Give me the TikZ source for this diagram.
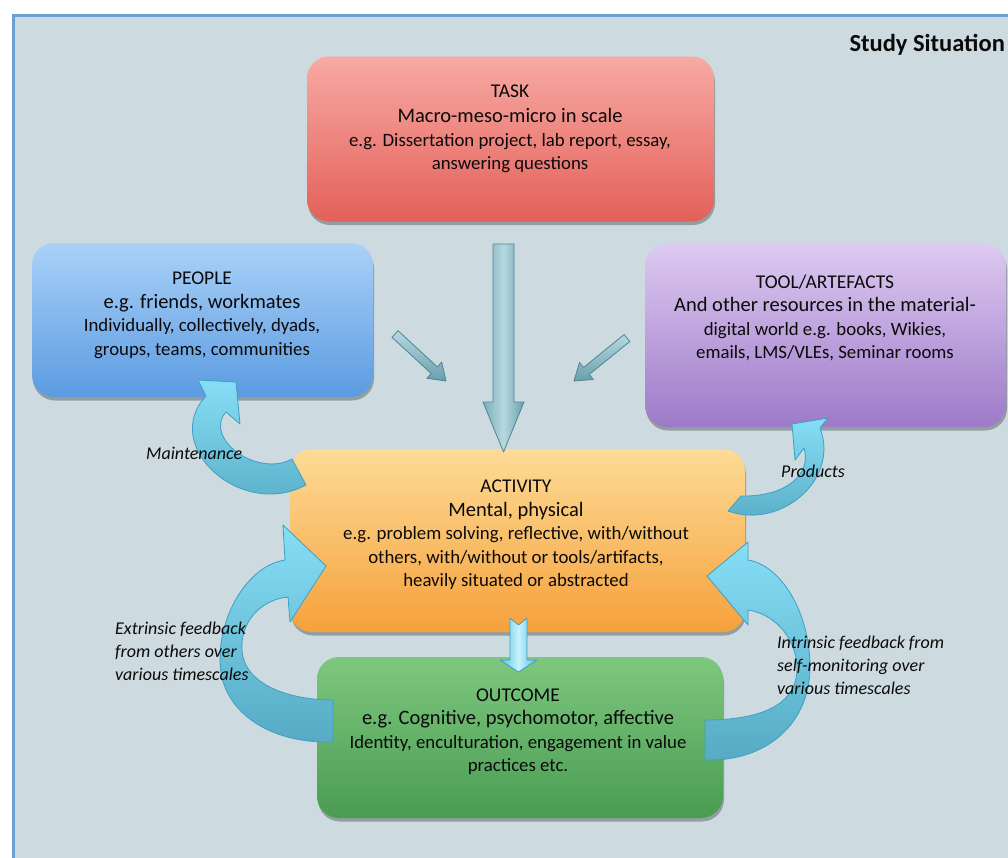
\documentclass[tikz,border=0pt]{standalone}
\usepackage{fontspec}
\setmainfont{Carlito}
\usetikzlibrary{calc,shadows}
\definecolor{bgc}{HTML}{CDDBE0}
\definecolor{framec}{HTML}{6F9FD0}
\definecolor{txtc}{HTML}{0A0A0A}
\definecolor{taskT}{HTML}{F7AAA3}\definecolor{taskB}{HTML}{E4605A}
\definecolor{peopT}{HTML}{AAD1F8}\definecolor{peopB}{HTML}{5B9BE1}
\definecolor{toolT}{HTML}{DDC9F1}\definecolor{toolB}{HTML}{9D7AC8}
\definecolor{actT}{HTML}{FDDB96}\definecolor{actB}{HTML}{F6A13B}
\definecolor{outT}{HTML}{7EC77F}\definecolor{outB}{HTML}{4A9C52}
\definecolor{tealL}{HTML}{7DAEBB}\definecolor{tealM}{HTML}{B6D8E0}\definecolor{tealR}{HTML}{6A9FAD}\definecolor{tealD}{HTML}{4E8593}
\definecolor{cyL}{HTML}{55C3E3}\definecolor{cyM}{HTML}{C8F2FC}\definecolor{cyR}{HTML}{55BDDE}\definecolor{cyD}{HTML}{3E9FC2}
\definecolor{cvT}{HTML}{86DEF6}\definecolor{cvB}{HTML}{56AAC4}
\newcommand\lgtxt{\fontsize{20.5}{23.5}\selectfont}
\newcommand\tttxt{\fontsize{19.5}{23.5}\selectfont}
\newcommand\blockarrow[7]{%
  \coordinate (#1b) at ($(#2)!#5!(#1)$);
  \coordinate (#1n) at ($(#1)!#6!(#2)$);
  \path[#7] ($(#1)!#3!90:(#2)$) -- ($(#1b)!#3!90:(#2)$) -- ($(#1b)!#4!90:(#2)$) -- (#2)
    -- ($(#1b)!#4!-90:(#2)$) -- ($(#1b)!#3!-90:(#2)$) -- ($(#1)!#3!-90:(#2)$) -- (#1n) -- cycle;
}
\begin{document}
\begin{tikzpicture}[x=1pt,y=-1pt,
  box/.style={rounded corners=22pt, draw=none, inner sep=0pt,
    drop shadow={shadow xshift=1pt, shadow yshift=-3.5pt, opacity=0.28, fill=black}},
  txt/.style={align=center, text=txtc, inner sep=0pt, font=\fontsize{18.8}{23.5}\selectfont},
  lab/.style={align=left, anchor=west, text=txtc, inner sep=0pt, font=\itshape\fontsize{18}{23}\selectfont},
  tealarrow/.style={draw=tealD, line width=0.8pt, line join=round},
  cyarrow/.style={draw=cyD, line width=0.8pt, line join=round, left color=cyL, right color=cyR, middle color=cyM},
  curv/.style={draw=cyD, line width=0.8pt, line join=round, top color=cvT, bottom color=cvB}
]
\useasboundingbox (0,0) rectangle (1008,857);
\fill[white] (0,0) rectangle (1008,857);
\filldraw[fill=bgc, draw=framec, line width=3pt] (13.5,15.5) rectangle (1016,866);

% boxes
\node[box, minimum width=407pt, minimum height=165pt, top color=taskT, bottom color=taskB] (task) at (510.5,139) {};
\node[box, minimum width=341pt, minimum height=154pt, top color=peopT, bottom color=peopB] (people) at (202.5,320) {};
\node[box, minimum width=361pt, minimum height=183pt, top color=toolT, bottom color=toolB] (tool) at (825.5,335.5) {};
\node[box, minimum width=455pt, minimum height=183pt, top color=actT, bottom color=actB] (activity) at (517.5,540.5) {};
\node[box, minimum width=406pt, minimum height=161pt, top color=outT, bottom color=outB] (outcome) at (520,737.5) {};

% straight arrows
\coordinate (bigS) at (503.5,244);
\coordinate (bigE) at (503.5,452);
\blockarrow{bigS}{bigE}{10.5pt}{20.5pt}{50pt}{0pt}{tealarrow, left color=tealL, right color=tealR, middle color=tealM}
\coordinate (dlS) at (395,334);
\coordinate (dlE) at (446,381);
\blockarrow{dlS}{dlE}{4.5pt}{11pt}{16pt}{0pt}{tealarrow, top color=tealM, bottom color=tealR}
\coordinate (drS) at (627,338);
\coordinate (drE) at (574,381);
\blockarrow{drS}{drE}{4.5pt}{11pt}{16pt}{0pt}{tealarrow, top color=tealM, bottom color=tealR}
\coordinate (smS) at (518.5,618);
\coordinate (smE) at (518.5,672);
\blockarrow{smS}{smE}{8.5pt}{18.5pt}{12pt}{7pt}{cyarrow}

% curved arrows
% Maintenance: activity -> people
\path[curv] (306,485) .. controls (240,520) and (160,445) .. (206,396) -- (198,380) -- (236,382) -- (240,424) -- (226,412)
  .. controls (203,438) and (257,478) .. (292,459) -- cycle;
% Products: activity -> tool
\path[curv] (728,511) .. controls (780,530) and (840,480) .. (820,428) -- (828,418) -- (792,424) -- (795,460) -- (804,448)
  .. controls (812,475) and (785,497) .. (741,496) -- cycle;
% Extrinsic: outcome -> activity (left)
\path[curv] (333,742) .. controls (270,744) and (221,712) .. (220,662) .. controls (219,612) and (250,565) .. (285,560)
  -- (283,525) -- (326,566) -- (290,622) -- (288,597)
  .. controls (258,600) and (240,625) .. (242,650) .. controls (244,685) and (290,700) .. (333,700) -- cycle;
% Intrinsic: outcome -> activity (right)
\path[curv] (705,760) .. controls (770,762) and (811,720) .. (810,665) .. controls (809,610) and (780,565) .. (748,560)
  -- (748,542) -- (707,576) -- (748,625) -- (748,610)
  .. controls (780,615) and (798,645) .. (797,670) .. controls (796,700) and (770,720) .. (705,720) -- cycle;

% texts
\node[anchor=east, text=txtc, inner sep=0pt, font=\bfseries\fontsize{24.5}{27}\selectfont] (title) at (1005,45) {Study Situation};
\node[txt] (tasktxt) at (510,129) {{\tttxt TASK}\\[2pt]{\lgtxt Macro-meso-micro in scale}\\e.g. Dissertation project, lab report, essay,\\answering questions};
\node[txt] (peopletxt) at (202,315.5) {{\tttxt PEOPLE}\\{\lgtxt e.g. friends, workmates}\\Individually, collectively, dyads,\\groups, teams, communities};
\node[txt] (tooltxt) at (825,318) {{\tttxt TOOL/ARTEFACTS}\\{\lgtxt And other resources in the material-}\\digital world e.g. books, Wikies,\\emails, LMS/VLEs, Seminar rooms};
\node[txt] (acttxt) at (516,535) {{\tttxt ACTIVITY}\\{\lgtxt Mental, physical}\\e.g. problem solving, reflective, with/without\\others, with/without or tools/artifacts,\\heavily situated or abstracted};
\node[txt] (outtxt) at (518,731.5) {{\tttxt OUTCOME}\\{\lgtxt e.g. Cognitive, psychomotor, affective}\\Identity, enculturation, engagement in value\\practices etc.};

% labels
\node[lab] (maint) at (146,453) {Maintenance};
\node[lab] (prod) at (781,471) {Products};
\node[lab] (extr) at (115,651) {Extrinsic feedback\\from others over\\various timescales};
\node[lab] (intr) at (777,665) {Intrinsic feedback from\\self-monitoring over\\various timescales};
\end{tikzpicture}
\end{document}
